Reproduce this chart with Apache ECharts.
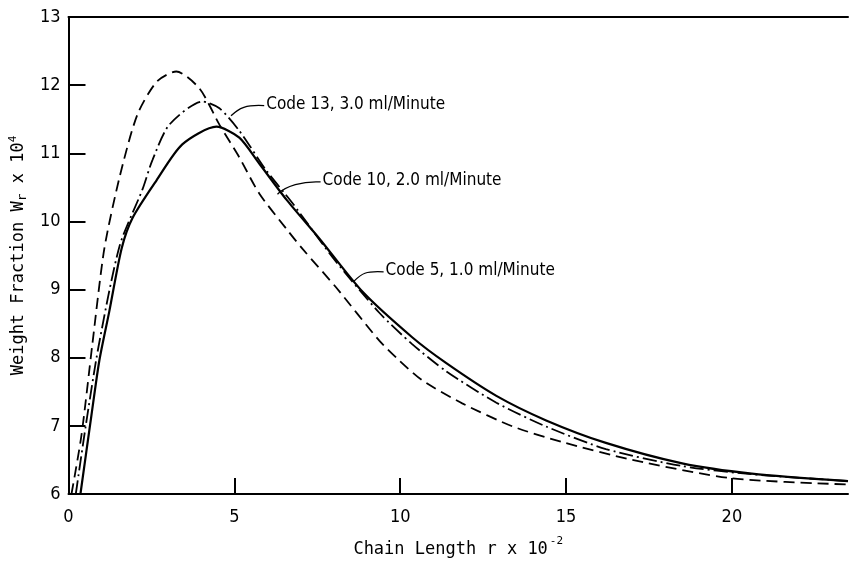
<!DOCTYPE html>
<html><head><meta charset="utf-8">
<script src="https://cdn.jsdelivr.net/npm/echarts@6/dist/echarts.min.js"></script>
<style>html,body{margin:0;padding:0;background:#fff}#c{width:851px;height:563px}</style>
</head><body><div id="c"></div>
<script>
// Chain length r x 10^-2 vs weight fraction Wr x 10^4
const code5Solid = [[0.36,6.0],[0.69,7.15],[0.93,7.96],[1.23,8.68],[1.6,9.6],[1.93,10.05],[2.65,10.6],[3.43,11.13],[4.46,11.39],[5.15,11.23],[5.75,10.85],[6.57,10.32],[7.56,9.75],[8.86,8.97],[10.36,8.3],[11.39,7.92],[12.9,7.44],[14.4,7.08],[16.2,6.75],[18.5,6.45],[20.6,6.3],[23.5,6.19]];
const code13DashDot = [[0.22,6.0],[0.52,7.0],[0.9,8.15],[1.54,9.64],[2.23,10.47],[2.53,10.9],[3.04,11.42],[4.04,11.76],[4.55,11.66],[5.15,11.33],[5.96,10.75],[6.75,10.27],[8.0,9.45],[9.37,8.66],[10.36,8.2],[11.39,7.8],[12.9,7.34],[14.4,6.99],[16.2,6.66],[18.5,6.41],[20.6,6.29],[23.5,6.19]];
const code10Dashed = [[0.09,6.0],[0.39,6.86],[0.72,8.2],[1.08,9.6],[1.54,10.65],[2.07,11.56],[2.66,12.05],[3.25,12.2],[3.95,11.95],[4.55,11.42],[5.15,10.94],[5.75,10.41],[6.57,9.89],[7.05,9.6],[8.07,9.03],[9.37,8.25],[9.97,7.96],[10.66,7.67],[11.87,7.33],[13.4,6.99],[14.9,6.76],[17,6.5],[20,6.23],[23.5,6.14]];
const xTickValues = [5,10,15,20];
const xLabelValues = [0,5,10,15,20];
const yTickValues = [7,8,9,10,11,12];
const yLabelValues = [6,7,8,9,10,11,12,13];
const labelTexts = ['Code 13, 3.0 ml/Minute','Code 10, 2.0 ml/Minute','Code 5, 1.0 ml/Minute'];
// label anchor (data coords) and leader target (data coords)
const labelAnchors = [[5.9,11.7],[7.6,10.58],[9.5,9.26]];
const leaderTargets = [[4.9,11.55],[6.3,10.4],[8.6,9.12]];

const narrow = '"Liberation Sans Narrow","DejaVu Sans Condensed","Liberation Sans",sans-serif';
const mono = '"DejaVu Sans Mono","Liberation Mono",monospace';
const chart = echarts.init(document.getElementById('c'), null, {renderer:'canvas'});
const lineCommon = {type:'line', showSymbol:false, smooth:0.25, animation:false, z:3};
chart.setOption({
  animation:false,
  backgroundColor:'#fff',
  grid:{left:68, right:3, top:17, bottom:60, containLabel:false},
  xAxis:[{
    type:'value', min:0, max:23.5, interval:5,
    axisLine:{show:true, onZero:false, lineStyle:{color:'#000', width:2}},
    axisTick:{show:true, inside:true, length:16, customValues:xTickValues, lineStyle:{color:'#000', width:2}},
    axisLabel:{customValues:xLabelValues, color:'#000', fontFamily:narrow, fontSize:18, margin:14},
    splitLine:{show:false},
    name:'{t|Chain Length r x 10}{s|-2}', nameLocation:'middle', nameGap:41,
    nameTextStyle:{rich:{t:{fontFamily:mono, fontSize:17, color:'#000', padding:[6,0,0,0]}, s:{fontFamily:mono, fontSize:11, color:'#000', padding:[0,0,10,2]}}}
  },{
    type:'value', position:'top', min:0, max:23.5,
    axisLine:{show:true, onZero:false, lineStyle:{color:'#000', width:2}},
    axisTick:{show:false}, axisLabel:{show:false}, splitLine:{show:false}
  }],
  yAxis:{
    type:'value', min:6, max:13, interval:1,
    axisLine:{show:true, onZero:false, lineStyle:{color:'#000', width:2}},
    axisTick:{show:true, inside:true, length:17, customValues:yTickValues, lineStyle:{color:'#000', width:2}},
    axisLabel:{customValues:yLabelValues, color:'#000', fontFamily:narrow, fontSize:18, margin:8},
    splitLine:{show:false},
    name:'{t|Weight Fraction W}{b|r}{t| x 10}{s|4}', nameLocation:'middle', nameGap:38, nameRotate:90,
    nameTextStyle:{rich:{t:{fontFamily:mono, fontSize:17, color:'#000'}, b:{fontFamily:mono, fontSize:13, color:'#000', padding:[8,0,0,0]}, s:{fontFamily:mono, fontSize:11, color:'#000', padding:[0,0,10,0]}}}
  },
  series:[
    Object.assign({name:labelTexts[1], data:code10Dashed, lineStyle:{color:'#000', width:1.8, type:[11,6]}}, lineCommon),
    Object.assign({name:labelTexts[0], data:code13DashDot, lineStyle:{color:'#000', width:1.8, type:[14,4,2,4]}}, lineCommon),
    Object.assign({name:labelTexts[2], data:code5Solid, lineStyle:{color:'#000', width:2.2, type:'solid'}}, lineCommon)
  ]
});
const g = [];
for (let i = 0; i < labelTexts.length; i++) {
  const a = chart.convertToPixel({gridIndex:0}, labelAnchors[i]);
  const t = chart.convertToPixel({gridIndex:0}, leaderTargets[i]);
  g.push({type:'text', left:a[0]+2, top:a[1]-10, style:{text:labelTexts[i], font:'17px '+narrow, fill:'#000'}, z:10});
  g.push({type:'bezierCurve', shape:{x1:a[0], y1:a[1], x2:t[0], y2:t[1], cpx1:a[0]-18, cpy1:a[1]-1, cpx2:t[0]+8, cpy2:t[1]-8}, style:{stroke:'#000', lineWidth:1.3, fill:null}, z:10});
}
chart.setOption({graphic:g});
</script></body></html>
